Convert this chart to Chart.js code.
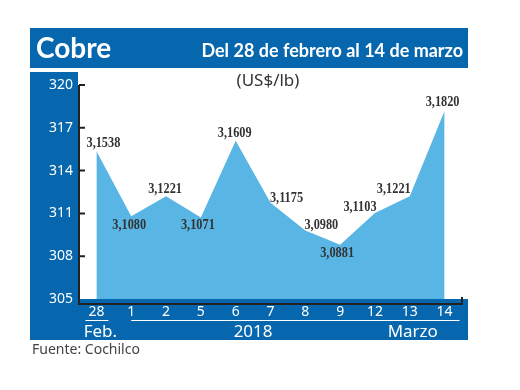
<!DOCTYPE html>
<html>
<head>
<meta charset="utf-8">
<script src="https://cdn.jsdelivr.net/npm/chart.js@4/dist/chart.umd.min.js"></script>
<style>
  html, body { margin: 0; padding: 0; background: #fff; }
  canvas { display: block; }
</style>
</head>
<body>
<canvas id="cobreChart" width="520" height="390"></canvas>
<script>
// Precio del cobre, centavos US$/lb
const fechas = ['28', '1', '2', '5', '6', '7', '8', '9', '12', '13', '14'];
const cobre = [315.38, 310.80, 312.21, 310.71, 316.09, 311.75, 309.80, 308.81, 311.03, 312.21, 318.20];
const ticksY = [305, 308, 311, 314, 317, 320];

// desplazamiento de cada etiqueta respecto a su punto [dx, dy]
const labelOffsets = [[7, -8], [-2, 9], [-1, -7], [-3, 8], [-1, -8], [16, -5],
                      [16, -5], [-3, 8], [-15, -6], [-16, -7], [-2, -9]];

const AZUL = '#0767ae';
const CELESTE = '#58b5e4';

function fmt(v) {
  return (v / 100).toFixed(4).replace('.', ',');
}

const decor = {
  id: 'decor',
  beforeDraw(chart) {
    const c = chart.ctx;
    const area = chart.chartArea;
    c.save();
    c.fillStyle = '#fff';
    c.fillRect(0, 0, chart.width, chart.height);
    c.fillStyle = AZUL;
    c.fillRect(30, 28, 438, 40);           // barra del titulo
    c.fillRect(30, 72, area.left - 31, 268); // franja eje y
    c.fillRect(30, area.bottom, 438, 340 - area.bottom); // franja eje x
    c.restore();
  },
  afterDraw(chart) {
    const c = chart.ctx;
    const area = chart.chartArea;
    const x = chart.scales.x, y = chart.scales.y;
    c.save();

    // titulos
    c.fillStyle = '#fff';
    c.textBaseline = 'alphabetic';
    c.font = 'bold 28px Lato';
    c.textAlign = 'left';
    c.fillText('Cobre', 36, 58);
    c.font = 'bold 18px Lato';
    c.textAlign = 'right';
    c.fillText('Del 28 de febrero al 14 de marzo', 463, 57);

    c.fillStyle = '#333';
    c.font = '17px "Noto Sans"';
    c.textAlign = 'center';
    c.fillText('(US$/lb)', 268, 86);

    c.fillStyle = '#444';
    c.font = '14px "Noto Sans"';
    c.textAlign = 'left';
    c.fillText('Fuente: Cochilco', 32, 354);

    // ejes
    const base = area.bottom + 5;
    c.strokeStyle = '#222';
    c.lineWidth = 2;
    c.beginPath();
    c.moveTo(area.left, y.getPixelForValue(ticksY[ticksY.length - 1]));
    c.lineTo(area.left, base);
    c.lineTo(area.right, base);
    c.lineTo(area.right, base - 7);
    ticksY.slice(1).forEach(t => {
      const py = y.getPixelForValue(t);
      c.moveTo(area.left, py);
      c.lineTo(area.left + 6, py);
    });
    c.stroke();

    // meses y anio
    c.strokeStyle = '#fff';
    c.lineWidth = 1;
    c.beginPath();
    const x0 = x.getPixelForValue(0);
    c.moveTo(x0 - 11, 320.5);
    c.lineTo(x0 + 12, 320.5);
    c.moveTo(x.getPixelForValue(1), 320.5);
    c.lineTo(x.getPixelForValue(10) + 15, 320.5);
    c.stroke();

    c.fillStyle = '#fff';
    c.font = '17px "Noto Sans"';
    c.textAlign = 'center';
    c.fillText('Feb.', x0 + 4, 337);
    c.fillText('2018', (x.getPixelForValue(4) + x.getPixelForValue(5)) / 2, 337);
    c.fillText('Marzo', x.getPixelForValue(9) + 3, 337);

    // etiquetas de valores
    c.fillStyle = '#333';
    c.font = 'bold 15px "Liberation Serif"';
    c.textBaseline = 'middle';
    cobre.forEach((v, i) => {
      const px = x.getPixelForValue(i) + labelOffsets[i][0];
      const py = y.getPixelForValue(v) + labelOffsets[i][1];
      c.save();
      c.translate(px, py);
      c.scale(0.82, 1);
      c.fillText(fmt(v), 0, 0);
      c.restore();
    });
    c.restore();
  }
};

new Chart(document.getElementById('cobreChart'), {
  type: 'line',
  data: {
    labels: fechas,
    datasets: [{
      data: cobre,
      fill: 'start',
      backgroundColor: CELESTE,
      borderWidth: 0,
      pointRadius: 0,
      tension: 0
    }]
  },
  options: {
    responsive: false,
    animation: false,
    devicePixelRatio: 1,
    layout: { padding: { left: 30, top: 85, right: 58, bottom: 50 } },
    plugins: { legend: { display: false }, tooltip: { enabled: false } },
    scales: {
      x: {
        offset: true,
        grid: { display: false, drawTicks: false },
        border: { display: false },
        ticks: { color: '#fff', font: { family: 'Noto Sans', size: 14 }, padding: 5,
                 maxRotation: 0, autoSkip: false },
        afterFit: s => { s.height = 41; }
      },
      y: {
        min: 305,
        max: 320,
        grid: { display: false, drawTicks: false },
        border: { display: false },
        ticks: { color: '#fff', font: { family: 'Noto Sans', size: 14 }, padding: 6, stepSize: 3 },
        afterBuildTicks: s => { s.ticks = ticksY.map(v => ({ value: v })); },
        afterFit: s => { s.width = 49; }
      }
    }
  },
  plugins: [decor]
});
</script>
</body>
</html>
